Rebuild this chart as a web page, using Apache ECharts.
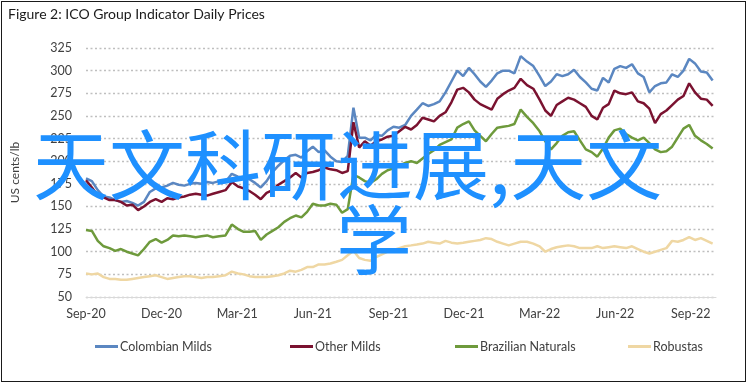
<!DOCTYPE html>
<html>
<head>
<meta charset="utf-8">
<script src="https://cdn.jsdelivr.net/npm/echarts@6/dist/echarts.min.js"></script>
<style>
html,body{margin:0;padding:0;background:#fff;}
#chart{position:absolute;left:0;top:0;width:748px;height:387px;}
#frame{position:absolute;left:1px;top:1px;width:745px;height:381px;box-sizing:border-box;border:1.5px solid #1a1a1a;pointer-events:none;}
</style>
</head>
<body>
<div id="chart"></div>
<div id="frame"></div>
<script>
const titleText = 'Figure 2: ICO Group Indicator Daily Prices';
const yAxisName = 'US cents/lb';
const tickLabels = ['Sep-20','Dec-20','Mar-21','Jun-21','Sep-21','Dec-21','Mar-22','Jun-22','Sep-22'];
const seriesNames = ['Colombian Milds','Other Milds','Brazilian Naturals','Robustas'];
const watermarkLine1 = '天文科研进展,天文';
const watermarkLine2 = '学';

// weekly observations starting 2020-09-01
const startDate = '2020-09-01';
const stepDays = 7;

const colombianMilds = [181,178,168,161,160,157,155,156,154,151,155,166,170,171,173,176,174,173,175,176,
175,177,176,178,177,186,183,181,180,176,171,178,188,195,201,206,207,204,211,216,
210,212,205,200,199,206,259,226,226,223,229,228,234,238,237,240,250,257,264,261,
263,266,276,288,300,294,303,296,288,282,289,297,300,300,297,316,310,305,294,283,
288,296,294,296,301,293,287,280,278,292,287,302,305,303,307,297,293,276,283,286,
287,296,293,300,313,308,299,298,289];

const otherMilds = [179,171,162,160,157,157,155,151,152,146,150,155,158,155,159,158,160,161,163,164,
163,162,164,166,168,177,172,170,167,163,158,165,168,174,178,182,187,182,187,188,
190,193,191,190,187,189,243,215,222,217,222,224,227,228,233,238,235,240,248,246,
244,250,254,265,279,281,276,268,263,260,257,269,274,278,281,291,284,280,268,256,
250,262,266,270,268,264,260,250,246,259,263,278,275,274,276,266,264,258,242,252,
256,262,268,272,286,276,269,268,261];

const brazilianNaturals = [124,123,112,106,104,101,103,100,98,96,103,111,114,110,113,118,117,118,117,116,
117,118,116,117,118,130,125,122,122,123,113,119,123,127,133,137,140,138,144,153,
151,151,153,152,143,147,185,182,178,176,180,186,190,192,195,198,200,198,203,208,
212,218,221,224,237,241,244,234,228,222,230,237,238,239,241,257,249,242,233,222,
213,220,228,232,233,223,213,210,205,214,226,234,236,230,226,223,226,220,213,210,
211,216,226,236,240,228,223,219,214];

const robustas = [76,75,76,72,70,70,69,69,70,71,72,73,74,72,70,71,72,73,73,72,
71,72,72,73,74,78,76,75,73,72,72,72,73,74,76,79,78,80,83,83,
86,86,87,89,91,96,101,93,91,90,94,97,100,102,104,106,107,108,109,111,
110,109,112,110,109,110,111,112,113,115,114,111,109,107,109,111,111,109,106,100,
103,105,106,107,106,104,104,104,106,104,105,106,105,104,106,103,100,98,100,102,
104,112,111,113,116,113,115,112,109];

const seriesValues = [colombianMilds, otherMilds, brazilianNaturals, robustas];
const seriesColors = ['#5b87c1','#7a1230','#6e9a3c','#efd7a3'];

function dateAt(i){
  const d = new Date(startDate + 'T00:00:00Z');
  d.setUTCDate(d.getUTCDate() + stepDays * i);
  return d;
}
// position in months since 1 Sep 2020
function monthPos(d){
  const y = d.getUTCFullYear(), m = d.getUTCMonth(), day = d.getUTCDate();
  const dim = new Date(Date.UTC(y, m + 1, 0)).getUTCDate();
  return (y - 2020) * 12 + (m - 8) + (day - 1) / dim;
}

const font = 'Lato, "Open Sans", sans-serif';
const chart = echarts.init(document.getElementById('chart'), null, {renderer:'canvas'});

const legendLefts = [95, 290, 455, 628];

const option = {
  animation: false,
  backgroundColor: '#ffffff',
  textStyle: {fontFamily: font},
  title: {
    text: titleText, left: 8, top: 7, padding: 0,
    textStyle: {fontSize: 14, fontWeight: 'normal', color: '#1a1a1a', fontFamily: font}
  },
  legend: seriesNames.map((n, k) => ({
    data: [n], left: legendLefts[k], top: 340, padding: 0,
    icon: 'rect', itemWidth: 23, itemHeight: 3,
    textStyle: {fontSize: 12.5, color: '#404040', fontFamily: font, padding: [0,0,0,-3]}
  })),
  grid: {left: 86, right: 32, top: 48, bottom: 90, containLabel: false},
  xAxis: {
    type: 'value', min: 0, max: 25, interval: 3,
    axisLine: {show: true, lineStyle: {color: '#d9d9d9', width: 1}},
    axisTick: {show: false},
    splitLine: {show: false},
    axisLabel: {
      margin: 10, fontSize: 12.5, color: '#404040', fontFamily: font,
      showMaxLabel: false,
      formatter: v => (v % 3 === 0 && tickLabels[v / 3]) ? tickLabels[v / 3] : ''
    }
  },
  yAxis: {
    type: 'value', min: 50, max: 325, interval: 25,
    name: yAxisName, nameLocation: 'middle', nameRotate: 90, nameGap: 65,
    nameTextStyle: {fontSize: 12, color: '#404040', fontFamily: font},
    axisLine: {show: false}, axisTick: {show: false},
    axisLabel: {margin: 14, fontSize: 12.5, color: '#404040', fontFamily: font},
    splitLine: {show: true, lineStyle: {color: '#bfbfbf', width: 1.3, type: [2, 2.5]}}
  },
  series: seriesNames.map((n, k) => ({
    name: n, type: 'line', showSymbol: false, symbol: 'none',
    lineStyle: {width: 2.5, color: seriesColors[k]},
    itemStyle: {color: seriesColors[k]},
    z: 2,
    data: seriesValues[k].map((v, i) => [monthPos(dateAt(i)), v])
  })),
  graphic: [
    {type: 'text', z: 100, left: 33, top: 127,
     style: {text: watermarkLine1, font: '76px "Noto Sans CJK SC"', fill: '#1e90ff'}},
    {type: 'text', z: 100, left: 336, top: 202,
     style: {text: watermarkLine2, font: '76px "Noto Sans CJK SC"', fill: '#1e90ff'}}
  ]
};
chart.setOption(option);
</script>
</body>
</html>
